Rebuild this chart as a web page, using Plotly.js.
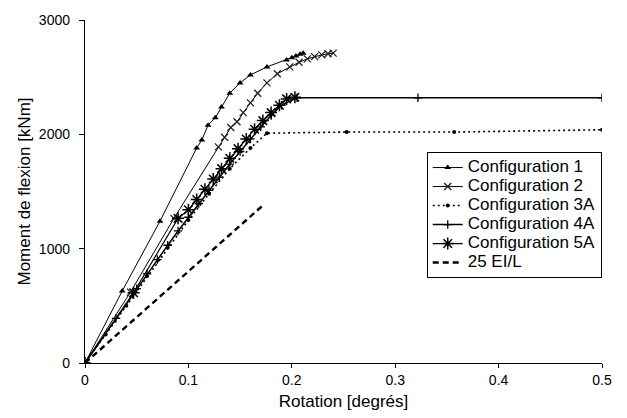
<!DOCTYPE html>
<html>
<head>
<meta charset="utf-8">
<script src="https://cdn.plot.ly/plotly-3.0.1.min.js"></script>
<style>html,body{margin:0;padding:0;background:#fff}#chart{width:627px;height:418px}</style>
</head>
<body>
<div id="chart"></div>
<script>
// Configuration 1
var x1 = [0, 0.036, 0.0725, 0.108, 0.113, 0.119, 0.126, 0.132, 0.140, 0.150, 0.160, 0.176, 0.195, 0.200, 0.204, 0.208, 0.211];
var y1 = [0, 630, 1240, 1880, 1950, 2080, 2145, 2240, 2360, 2450, 2520, 2590, 2650, 2670, 2685, 2700, 2710];
// Configuration 2
var x2 = [0, 0.044, 0.086, 0.129, 0.135, 0.141, 0.147, 0.153, 0.160, 0.167, 0.176, 0.186, 0.198, 0.207, 0.215, 0.222, 0.229, 0.235, 0.240];
var y2 = [0, 620, 1265, 1890, 1975, 2060, 2110, 2190, 2275, 2360, 2450, 2530, 2590, 2630, 2660, 2680, 2695, 2705, 2710];
// Configuration 3A
var x3 = [0, 0.02, 0.04, 0.06, 0.08, 0.10, 0.12, 0.14, 0.16, 0.176, 0.253, 0.357, 0.5];
var y3 = [0, 250, 500, 760, 1010, 1250, 1480, 1700, 1880, 2010, 2020, 2020, 2040];
// Configuration 4A
var x4 = [0, 0.03, 0.05, 0.06, 0.07, 0.08, 0.09, 0.10, 0.11, 0.12, 0.13, 0.14, 0.15, 0.16, 0.17, 0.18, 0.19, 0.205, 0.322, 0.5];
var y4 = [0, 390, 650, 780, 905, 1030, 1155, 1275, 1395, 1510, 1625, 1740, 1850, 1960, 2065, 2165, 2255, 2320, 2320, 2320];
// Configuration 5A
var x5 = [0, 0.047, 0.09, 0.10, 0.108, 0.116, 0.124, 0.132, 0.140, 0.148, 0.156, 0.164, 0.172, 0.180, 0.188, 0.195, 0.203];
var y5 = [0, 615, 1265, 1340, 1430, 1520, 1610, 1700, 1790, 1875, 1960, 2045, 2120, 2190, 2255, 2310, 2325];
// 25 EI/L
var x6 = [0, 0.171];
var y6 = [0, 1370];

var names = ["Configuration 1", "Configuration 2", "Configuration 3A", "Configuration 4A", "Configuration 5A", "25 EI/L"];
var xTicks = [0, 0.1, 0.2, 0.3, 0.4, 0.5];
var xTickText = ["0", "0.1", "0.2", "0.3", "0.4", "0.5"];
var yTicks = [0, 1000, 2000, 3000];

var FONT = "Liberation Sans, Arial, sans-serif";
function legName(s) { return '<span style="font-size:17px">' + s + '</span>'; }

var traces = [
  {x: x1, y: y1, name: legName(names[0]), mode: "lines+markers",
   line: {color: "#000", width: 1},
   marker: {symbol: "triangle-up", size: 6, color: "#000"}},
  {x: x2, y: y2, name: legName(names[1]), mode: "lines+markers",
   line: {color: "#000", width: 1},
   marker: {symbol: "x-thin-open", size: 7, color: "#222", line: {width: 1.3, color: "#222"}}},
  {x: x3, y: y3, name: legName(names[2]), mode: "lines+markers",
   line: {color: "#000", width: 1.6, dash: "2px,3px"},
   marker: {symbol: "circle", size: 4, color: "#000"}},
  {x: x4, y: y4, name: legName(names[3]), mode: "lines+markers",
   line: {color: "#000", width: 1.5},
   marker: {symbol: "cross-thin-open", size: 6, color: "#000", line: {width: 1.3, color: "#000"}}},
  {x: x5, y: y5, name: legName(names[4]), mode: "lines+markers",
   line: {color: "#000", width: 1.2},
   marker: {symbol: "asterisk-open", size: 10, color: "#000", line: {width: 1.5, color: "#000"}}},
  {x: x6, y: y6, name: legName(names[5]), mode: "lines",
   line: {color: "#000", width: 2.4, dash: "6px,4px"}}
];

var layout = {
  width: 627, height: 418,
  margin: {l: 85, r: 25, t: 20, b: 55},
  paper_bgcolor: "#fff", plot_bgcolor: "#fff",
  font: {family: FONT, size: 14, color: "#000"},
  showlegend: true,
  legend: {x: 0.661, y: 0.615, xanchor: "left", yanchor: "top",
           bgcolor: "#fff", bordercolor: "#000", borderwidth: 1,
           font: {family: FONT, size: 12, color: "#000"}},
  xaxis: {range: [0, 0.5], tickvals: xTicks, ticktext: xTickText,
          showgrid: false, zeroline: false, showline: true, linecolor: "#000", linewidth: 1.2,
          ticks: "outside", ticklen: 4, tickcolor: "#000",
          tickfont: {family: FONT, size: 14, color: "#000"},
          title: {text: "Rotation [degrés]", font: {family: FONT, size: 17, color: "#000"}, standoff: 8}},
  yaxis: {range: [0, 3000], tickvals: yTicks,
          showgrid: false, zeroline: false, showline: true, linecolor: "#000", linewidth: 1.2,
          ticks: "outside", ticklen: 5, tickcolor: "#000", ticklabelstandoff: 6,
          tickfont: {family: FONT, size: 14, color: "#000"},
          title: {text: "Moment de flexion [kNm]", font: {family: FONT, size: 17, color: "#000"}, standoff: 3}}
};

Plotly.newPlot("chart", traces, layout, {displayModeBar: false, staticPlot: true});
</script>
</body>
</html>
